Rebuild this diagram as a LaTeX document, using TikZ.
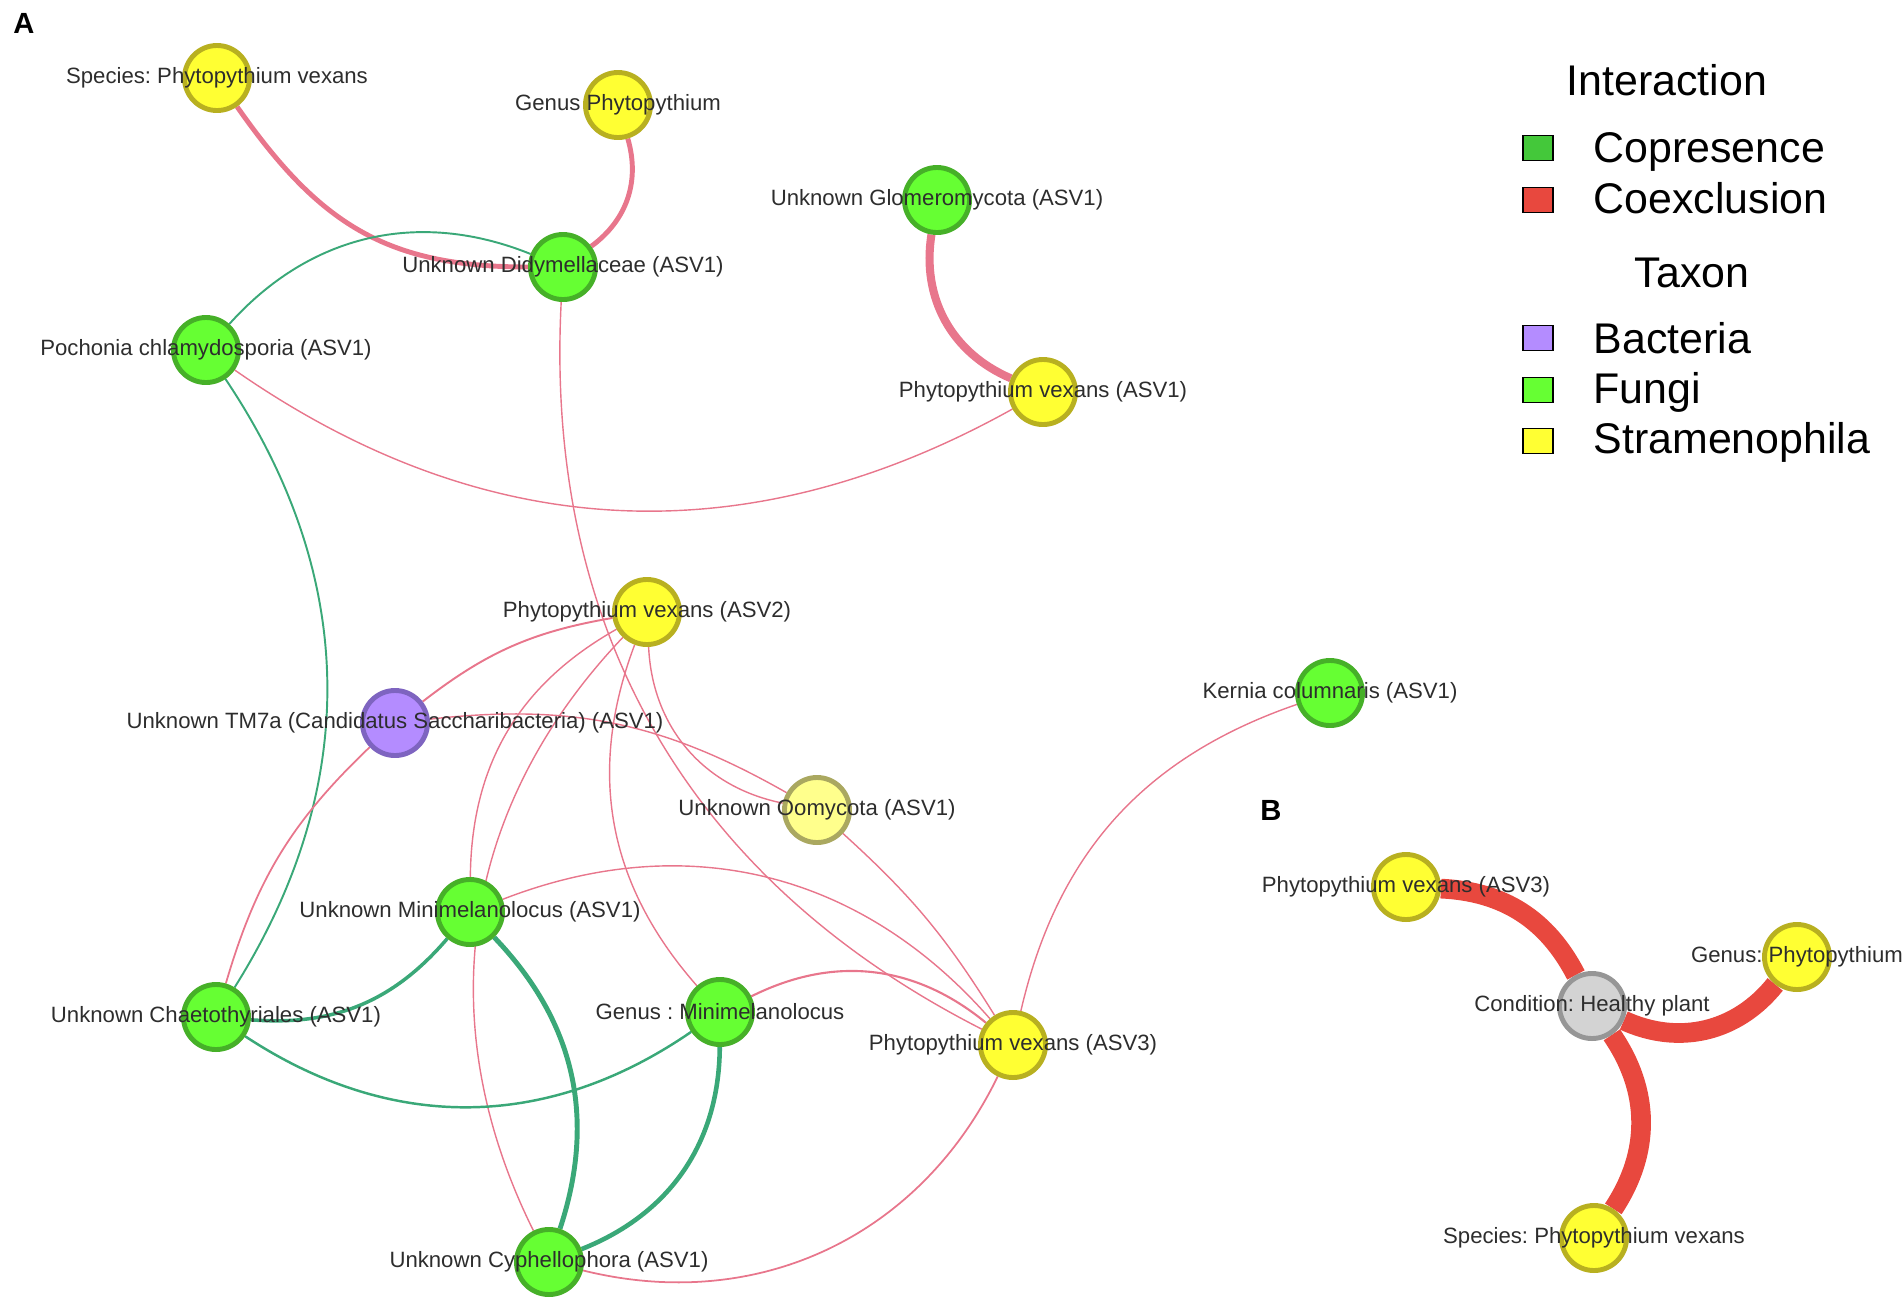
\documentclass[tikz,border=0pt]{standalone}
\usepackage{fontspec}
\setmainfont{Liberation Sans}
\usepackage{tikz}
\usetikzlibrary{positioning}
\usetikzlibrary{backgrounds}
\frenchspacing

\definecolor{fungfill}{RGB}{102,255,51}
\definecolor{fungline}{RGB}{70,176,40}
\definecolor{strafill}{RGB}{255,255,51}
\definecolor{straline}{RGB}{184,176,32}
\definecolor{oomyfill}{RGB}{255,255,140}
\definecolor{oomyline}{RGB}{170,168,96}
\definecolor{bactfill}{RGB}{180,140,255}
\definecolor{bactline}{RGB}{126,100,192}
\definecolor{condfill}{RGB}{211,211,211}
\definecolor{condline}{RGB}{150,150,150}
\definecolor{coexpink}{RGB}{232,118,140}
\definecolor{coexred}{RGB}{232,72,62}
\definecolor{copgreen}{RGB}{58,168,120}
\definecolor{legcop}{RGB}{68,200,58}
\definecolor{labgray}{RGB}{45,45,45}

\begin{document}
\begin{tikzpicture}[x=0.01cm,y=0.01cm,
  every label/.style={text=labgray,font=\fontsize{6.3}{7}\selectfont,inner sep=0pt},
  taxon/.style={circle,draw,line width=1.4pt,minimum size=0.65cm,inner sep=0pt},
  fungus/.style={taxon,fill=fungfill,draw=fungline},
  strame/.style={taxon,fill=strafill,draw=straline},
  oomy/.style={taxon,fill=oomyfill,draw=oomyline},
  bact/.style={taxon,fill=bactfill,draw=bactline},
  cond/.style={taxon,fill=condfill,draw=condline},
  coex/.style={draw=coexpink,line width=#1},
  copres/.style={draw=copgreen,line width=#1},
  coexB/.style={draw=coexred,line width=5.6pt},
  legbox/.style={draw=black,line width=0.5pt,minimum width=0.3cm,minimum height=0.25cm,inner sep=0pt},
  legtext/.style={font=\fontsize{12.2}{14}\selectfont,inner sep=0pt},
  panel/.style={font=\fontsize{8.3}{9}\selectfont\bfseries,inner sep=0pt}]
\useasboundingbox (0,0) rectangle (1902,-1305);

% panel A
\node[panel] (labA) at (24,-23) {A};
\node[strame] (sppv) at (217,-78) [label=center:{Species: Phytopythium vexans}] {};
\node[strame] (genp) at (618,-105) [label=center:{Genus Phytopythium}] {};
\node[fungus] (didy) at (563,-267) [label=center:{Unknown Didymellaceae (ASV1)}] {};
\node[fungus] (poch) at (206,-350) [label=center:{Pochonia chlamydosporia (ASV1)}] {};
\node[fungus] (glom) at (937,-200) [label=center:{Unknown Glomeromycota (ASV1)}] {};
\node[strame] (pv1) at (1043,-392) [label=center:{Phytopythium vexans (ASV1)}] {};
\node[strame] (pv2) at (647,-612) [label=center:{Phytopythium vexans (ASV2)}] {};
\node[bact] (tm7) at (395,-723) [label=center:{Unknown TM7a (Candidatus Saccharibacteria) (ASV1)}] {};
\node[oomy] (oomy) at (817,-810) [label=center:{Unknown Oomycota (ASV1)}] {};
\node[fungus] (kern) at (1330,-693) [label=center:{Kernia columnaris (ASV1)}] {};
\node[fungus] (mini) at (470,-912) [label=center:{Unknown Minimelanolocus (ASV1)}] {};
\node[fungus] (chae) at (216,-1017) [label=center:{Unknown Chaetothyriales (ASV1)}] {};
\node[fungus] (gmini) at (720,-1012) [label=center:{Genus : Minimelanolocus}] {};
\node[strame] (pv3) at (1013,-1045) [label=center:{Phytopythium vexans (ASV3)}] {};
\node[fungus] (cyph) at (549,-1262) [label=center:{Unknown Cyphellophora (ASV1)}] {};

% panel B
\node[panel] (labB) at (1271,-810) {B};
\node[strame] (bpv3) at (1406,-887) [label=center:{Phytopythium vexans (ASV3)}] {};
\node[cond] (health) at (1592,-1006) [label=center:{Condition: Healthy plant}] {};
\node[strame] (bgen) at (1797,-957) [label=center:{Genus: Phytopythium}] {};
\node[strame] (bsp) at (1594,-1238) [label=center:{Species: Phytopythium vexans}] {};

\begin{pgfonlayer}{background}
  \draw[coex=1.4pt](sppv) to[out=-55,in=180,looseness=1.1] (didy);
  \draw[coex=1.4pt](genp) to[bend left=35] (didy);
  \draw[coex=2.3pt](glom) to[bend right=38] (pv1);
  \draw[copres=0.55pt](poch) to[bend left=35] (didy);
  \draw[coex=0.4pt](poch) to[bend right=32] (pv1);
  \draw[copres=0.55pt](poch) to[bend left=33] (chae);
  \draw[coex=0.4pt](didy) to[bend right=33] (pv3);
  \draw[coex=0.55pt](pv2) to[bend right=14] (tm7);
  \draw[coex=0.4pt](pv2) to[bend right=30] (mini);
  \draw[coex=0.4pt](pv2) to[bend right=35] (cyph);
  \draw[coex=0.4pt](pv2) to[bend right=31] (gmini);
  \draw[coex=0.4pt](pv2) to[bend right=38] (oomy);
  \draw[coex=0.4pt](tm7) to[bend left=18] (oomy);
  \draw[coex=0.5pt](tm7) to[bend right=15] (chae);
  \draw[coex=0.4pt](oomy) to[bend left=8] (pv3);
  \draw[coex=0.4pt](mini) to[bend left=35] (pv3);
  \draw[coex=0.6pt](gmini) to[bend left=33] (pv3);
  \draw[coex=0.5pt](cyph) to[bend right=39] (pv3);
  \draw[coex=0.4pt](kern) to[bend right=29] (pv3);
  \draw[copres=1pt](mini) to[bend left=27] (chae);
  \draw[copres=1.4pt](mini) to[bend left=31] (cyph);
  \draw[copres=1.3pt](gmini) to[bend left=34] (cyph);
  \draw[copres=0.7pt](chae) to[bend right=34] (gmini);
  \draw[coexB](bpv3) to[bend left=30] (health);
  \draw[coexB](health) to[bend right=38] (bgen);
  \draw[coexB](health) to[bend left=34] (bsp);
\end{pgfonlayer}

% legend
\node[legtext,anchor=base] (legint) at (1667,-95) {Interaction};
\node[legbox,fill=legcop] (boxcop) at (1538,-148) {};
\node[legtext,anchor=base west] (txtcop) at (1593,-162) {Copresence};
\node[legbox,fill=coexred] (boxcoex) at (1538,-200) {};
\node[legtext,anchor=base west] (txtcoex) at (1593,-213) {Coexclusion};
\node[legtext,anchor=base] (legtax) at (1692,-287) {Taxon};
\node[legbox,fill=bactfill] (boxbact) at (1538,-338) {};
\node[legtext,anchor=base west] (txtbact) at (1593,-353) {Bacteria};
\node[legbox,fill=fungfill] (boxfung) at (1538,-390) {};
\node[legtext,anchor=base west] (txtfung) at (1593,-403) {Fungi};
\node[legbox,fill=strafill] (boxstra) at (1538,-441) {};
\node[legtext,anchor=base west] (txtstra) at (1593,-453) {Stramenophila};
\end{tikzpicture}
\end{document}
